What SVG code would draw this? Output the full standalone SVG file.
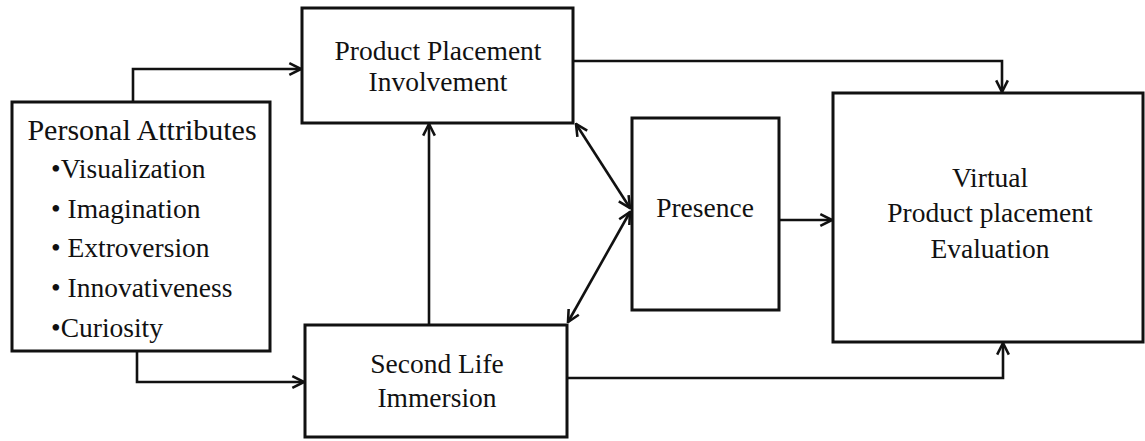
<svg xmlns="http://www.w3.org/2000/svg" width="1145" height="441" viewBox="0 0 1145 441">
  <style>
    .box { fill: #ffffff; stroke: #111111; stroke-width: 3; }
    .lbl { font-family: "Liberation Serif", "Times New Roman", serif; font-size: 27.5px; fill: #111111; }
    .ctr { text-anchor: middle; }
    .wire { fill: none; stroke: #111111; stroke-width: 2.6; }
  </style>
  <defs>
    <marker id="head" viewBox="0 0 12 12" refX="11" refY="6" markerWidth="14" markerHeight="14" markerUnits="userSpaceOnUse" orient="auto-start-reverse">
      <path d="M1,1 L11,6 L1,11" fill="none" stroke="#111111" stroke-width="2.2" stroke-linejoin="miter"/>
    </marker>
  </defs>

  <rect width="1145" height="441" fill="#ffffff"/>

  <g id="connectors">
    <!-- Personal Attributes to Product Placement Involvement -->
    <path class="wire" d="M133,102 L133,69 L301,69" marker-end="url(#head)"/>
    <!-- Personal Attributes to Second Life Immersion -->
    <path class="wire" d="M137,351 L137,382 L304,382" marker-end="url(#head)"/>
    <!-- Second Life Immersion to Product Placement Involvement -->
    <path class="wire" d="M429,325 L429,124" marker-end="url(#head)"/>
    <!-- Product Placement Involvement to Evaluation -->
    <path class="wire" d="M573,61 L1002,61 L1002,92" marker-end="url(#head)"/>
    <!-- Second Life Immersion to Evaluation -->
    <path class="wire" d="M567,378 L1003,378 L1003,343" marker-end="url(#head)"/>
    <!-- Presence to Evaluation -->
    <path class="wire" d="M779,220 L832,220" marker-end="url(#head)"/>
    <!-- Presence with Involvement (two-way) -->
    <path class="wire" d="M576,124 L630,208" marker-start="url(#head)" marker-end="url(#head)"/>
    <!-- Presence with Immersion (two-way) -->
    <path class="wire" d="M630,212 L568,322" marker-start="url(#head)" marker-end="url(#head)"/>
  </g>

  <g id="personal-attributes">
    <rect class="box" x="12" y="102" width="258" height="249"/>
    <text class="lbl" x="142" y="140" text-anchor="middle" style="font-size:30px">Personal Attributes</text>
    <text class="lbl" x="51" y="178">•Visualization</text>
    <text class="lbl" x="51" y="218">• Imagination</text>
    <text class="lbl" x="51" y="257">• Extroversion</text>
    <text class="lbl" x="51" y="297">• Innovativeness</text>
    <text class="lbl" x="51" y="337">•Curiosity</text>
  </g>

  <g id="product-placement-involvement">
    <rect class="box" x="302" y="8" width="271" height="115"/>
    <text class="lbl ctr" x="438" y="60">Product Placement</text>
    <text class="lbl ctr" x="438" y="91">Involvement</text>
  </g>

  <g id="second-life-immersion">
    <rect class="box" x="305" y="325" width="262" height="112"/>
    <text class="lbl ctr" x="437" y="373">Second Life</text>
    <text class="lbl ctr" x="437" y="407">Immersion</text>
  </g>

  <g id="presence">
    <rect class="box" x="632" y="118" width="147" height="192"/>
    <text class="lbl ctr" x="705" y="217">Presence</text>
  </g>

  <g id="virtual-product-placement-evaluation">
    <rect class="box" x="833" y="93" width="310" height="249"/>
    <text class="lbl ctr" x="990" y="187">Virtual</text>
    <text class="lbl ctr" x="990" y="222">Product placement</text>
    <text class="lbl ctr" x="990" y="258">Evaluation</text>
  </g>
</svg>
